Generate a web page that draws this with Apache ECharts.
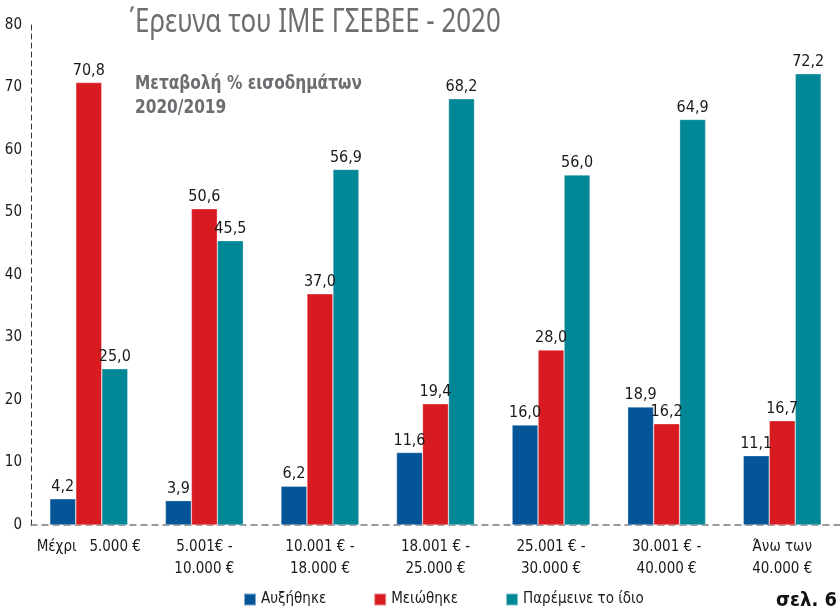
<!DOCTYPE html>
<html><head><meta charset="utf-8">
<script src="https://cdn.jsdelivr.net/npm/echarts@6/dist/echarts.min.js"></script>
<style>html,body{margin:0;padding:0;background:#fff}#c{width:840px;height:612px}</style>
</head><body><div id="c"></div>
<script>
const categories = ['Μέχρι   5.000 €', '5.001€ -\n10.000 €', '10.001 € -\n18.000 €', '18.001 € -\n25.000 €', '25.001 € -\n30.000 €', '30.001 € -\n40.000 €', 'Άνω των\n40.000 €'];
const increased = [4.2, 3.9, 6.2, 11.6, 16.0, 18.9, 11.1];
const decreased = [70.8, 50.6, 37.0, 19.4, 28.0, 16.2, 16.7];
const same = [25.0, 45.5, 56.9, 68.2, 56.0, 64.9, 72.2];
const seriesNames = ['Αυξήθηκε', 'Μειώθηκε', 'Παρέμεινε το ίδιο'];
const yTicks = [0, 10, 20, 30, 40, 50, 60, 70, 80];

const F = '"DejaVu Sans Condensed","Liberation Sans Narrow",sans-serif';
const colors = ['#035597', '#d81a21', '#018796'];
const chart = echarts.init(document.getElementById('c'));
function mk(name, data, i) {
  return {
    name, type: 'bar', data, barWidth: 26, barGap: '0%',
    itemStyle: { color: colors[i], borderColor: 'rgba(255,255,255,0.5)', borderWidth: 0.6 },
    label: { show: true, position: 'top', distance: 4, fontFamily: F, fontSize: 16, color: '#1a1a1a',
      formatter: p => p.value.toFixed(1).replace('.', ',') }
  };
}
chart.setOption({
  animation: false,
  textStyle: { fontFamily: F },
  grid: { left: 31, top: 25, width: 817, height: 500 },
  xAxis: {
    type: 'category', data: categories,
    axisLine: { lineStyle: { color: '#7a7a7a', type: [6, 5], width: 1.5 } },
    axisTick: { show: false },
    axisLabel: { fontFamily: F, fontSize: 15, color: '#1a1a1a', lineHeight: 22, margin: 11, interval: 0 }
  },
  yAxis: {
    type: 'value', min: yTicks[0], max: yTicks[yTicks.length - 1], interval: 10,
    axisLine: { show: true, lineStyle: { color: '#333', type: [5, 4], width: 1 } },
    axisTick: { show: false },
    splitLine: { show: false },
    axisLabel: { fontFamily: F, fontSize: 15, color: '#1a1a1a', margin: 9 }
  },
  legend: {
    bottom: 0, left: 238, itemWidth: 12, itemHeight: 12, itemGap: 47, icon: 'rect',
    textStyle: { fontFamily: F, fontSize: 15, color: '#1a1a1a' },
    data: seriesNames
  },
  series: [mk(seriesNames[0], increased, 0), mk(seriesNames[1], decreased, 1), mk(seriesNames[2], same, 2)],
  graphic: [
    { type: 'text', x: 129, y: 7, scaleX: 0.81, style: { text: '΄Ερευνα του ΙΜΕ ΓΣΕΒΕΕ - 2020', font: '32px "Noto Sans", sans-serif', fill: '#6d6e71' } },
    { type: 'text', x: 135, y: 72, scaleX: 0.9, style: { text: 'Μεταβολή % εισοδημάτων\n2020/2019', font: 'bold 19px "DejaVu Sans Condensed",sans-serif', lineHeight: 24, fill: '#6d6e71' } },
    { type: 'text', x: 776, y: 591, style: { text: 'σελ. 6', font: 'bold 20px "DejaVu Sans Condensed",sans-serif', fill: '#111' } }
  ]
});
</script></body></html>
